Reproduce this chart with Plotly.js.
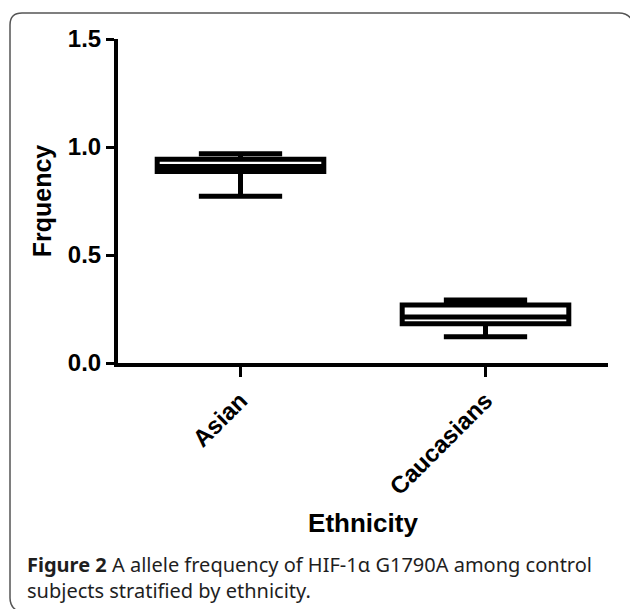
<!DOCTYPE html>
<html>
<head>
<meta charset="utf-8">
<script src="https://cdn.plot.ly/plotly-3.0.1.min.js"></script>
<style>
html,body{margin:0;padding:0;background:#fff;}
#chart{width:630px;height:609px;}
</style>
</head>
<body>
<div id="chart"></div>
<script>
// Data
var categories = ['Asian', 'Caucasians'];
var lowerWhisker = [0.772, 0.122];
var q1Values = [0.886, 0.182];
var medianValues = [0.910, 0.213];
var q3Values = [0.943, 0.269];
var upperWhisker = [0.969, 0.292];
var yTickValues = [0, 0.5, 1.0, 1.5];
var yTickLabels = ['0.0', '0.5', '1.0', '1.5'];

var W = 630, H = 609;
var L = 118, R = 22, T = 39, B = 246;
var pw = W - L - R, ph = H - T - B;
function px(x) { return (x - L) / pw; }
function py(y) { return (H - B - y) / ph; }

var boldFont = 'Arial, "Liberation Sans", sans-serif';

var trace = {
  type: 'box',
  x: categories,
  q1: q1Values,
  median: medianValues,
  q3: q3Values,
  lowerfence: lowerWhisker,
  upperfence: upperWhisker,
  boxpoints: false,
  width: 0.68,
  whiskerwidth: 0.5,
  fillcolor: 'rgba(255,255,255,0)',
  line: {color: '#000', width: 5},
  hoverinfo: 'skip',
  showlegend: false
};

function P(xp, yp) { return px(xp).toFixed(4) + ',' + py(yp).toFixed(4); }
var framePath = 'M' + P(10, 598) + ' L' + P(10, 25) + ' Q' + P(10, 13) + ' ' + P(22, 13) +
  ' L' + P(619, 13) + ' Q' + P(629, 13) + ' ' + P(633, 22);
var framePath2 = 'M' + P(10, 598) + ' Q' + P(10, 606) + ' ' + P(16, 610);

var layout = {
  width: W, height: H,
  margin: {l: L, r: R, t: T, b: B, pad: 0},
  paper_bgcolor: '#fff',
  plot_bgcolor: '#fff',
  showlegend: false,
  xaxis: {
    type: 'category',
    range: [-0.5, 1.5],
    showline: true, linecolor: '#000', linewidth: 4,
    ticks: 'outside', ticklen: 10, tickwidth: 3, tickcolor: '#000',
    tickangle: -45,
    tickfont: {family: boldFont, size: 24, color: '#000', weight: 'bold'},
    showgrid: false, zeroline: false, fixedrange: true, automargin: false,
    title: {text: 'Ethnicity', font: {family: boldFont, size: 26, color: '#000', weight: 'bold'}, standoff: 16}
  },
  yaxis: {
    range: [0, 1.5],
    tickvals: yTickValues, ticktext: yTickLabels,
    showline: true, linecolor: '#000', linewidth: 4,
    ticks: 'outside', ticklen: 8, tickwidth: 3, tickcolor: '#000',
    tickfont: {family: boldFont, size: 24, color: '#000', weight: 'bold'},
    showgrid: false, zeroline: false, fixedrange: true, automargin: false,
    title: {text: 'Frquency', font: {family: boldFont, size: 25, color: '#000', weight: 'bold'}, standoff: 10}
  },
  shapes: [
    {type: 'path', xref: 'paper', yref: 'paper', path: framePath, line: {color: '#555', width: 1.5}},
    {type: 'path', xref: 'paper', yref: 'paper', path: framePath2, line: {color: '#555', width: 1.5}}
  ],
  annotations: [
    {xref: 'paper', yref: 'paper', x: px(25), y: py(577), xanchor: 'left', yanchor: 'middle', align: 'left', showarrow: false,
     text: '<b>Figure 2</b> A allele frequency of HIF-1α G1790A among control<br>subjects stratified by ethnicity.',
     font: {family: '"Noto Sans", "Open Sans", sans-serif', size: 20, color: '#1e1e1e'}}
  ]
};

Plotly.newPlot('chart', [trace], layout, {staticPlot: true, displayModeBar: false});
</script>
</body>
</html>
